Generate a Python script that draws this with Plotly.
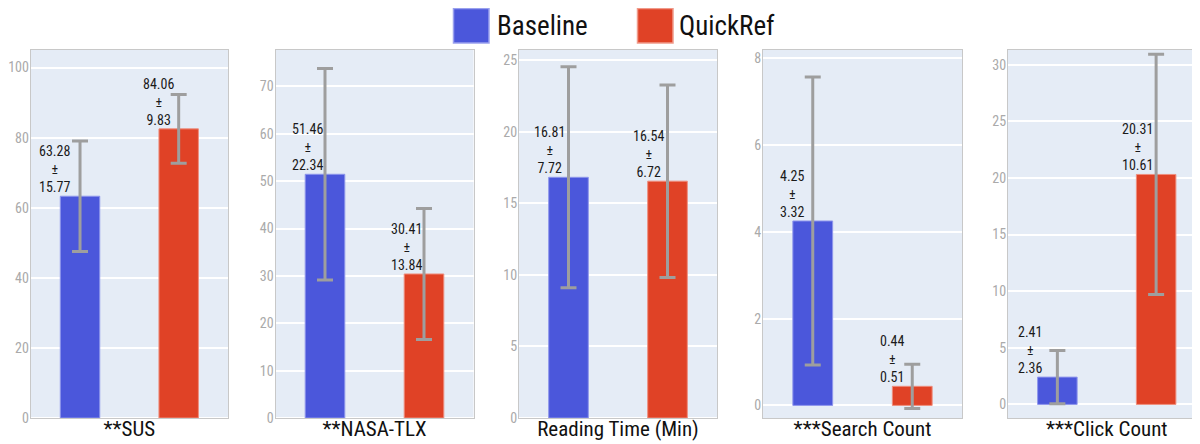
import plotly.graph_objects as go
from plotly.subplots import make_subplots

# ---------------- data ----------------
metrics = ["**SUS", "**NASA-TLX", "Reading Time (Min)", "***Search Count", "***Click Count"]
groups = ["Baseline", "QuickRef"]

baseline_mean = [63.28, 51.46, 16.81, 4.25, 2.41]
baseline_sd = [15.77, 22.34, 7.72, 3.32, 2.36]
quickref_mean = [82.5, 30.41, 16.54, 0.44, 20.31]   # bar heights as drawn
quickref_sd = [9.83, 13.84, 6.72, 0.51, 10.61]

baseline_label = ["63.28", "51.46", "16.81", "4.25", "2.41"]
baseline_label_sd = ["15.77", "22.34", "7.72", "3.32", "2.36"]
quickref_label = ["84.06", "30.41", "16.54", "0.44", "20.31"]
quickref_label_sd = ["9.83", "13.84", "6.72", "0.51", "10.61"]

# ---------------- style ----------------
FONT = "Roboto Condensed, Liberation Sans, sans-serif"
BLUE = "#4B57DB"
RED = "#E04226"
ERR = "rgb(158,158,158)"
W, H = 1200, 444
MT, MB = 42, 34
y_ranges = [[0, 105], [0, 77.7], [0, 25.7], [-0.29, 8.19], [-1.2, 31.3]]
y_dticks = [20, 10, 5, 2, 5]
x_px = [(22.7, 220), (267.5, 465.5), (511, 709), (755, 954), (1000, 1197.5)]
# horizontal offset (px) of each value label from its bar centre
label_dx_baseline = [-26, -18, -19, -20, -27]
label_dx_quickref = [-20, -18, -19, -20, -19]

fig = make_subplots(rows=1, cols=5)

annotations = []
for i, m in enumerate(metrics):
    means = [baseline_mean[i], quickref_mean[i]]
    sds = [baseline_sd[i], quickref_sd[i]]
    fig.add_trace(
        go.Bar(
            x=groups,
            y=means,
            width=0.4,
            marker=dict(color=[BLUE, RED],
                        line=dict(color=["#8E96EC", "#EE8E7E"], width=1)),
            error_y=dict(type="data", array=sds, visible=True,
                         color=ERR, thickness=3, width=8),
            showlegend=False,
        ),
        row=1, col=i + 1,
    )
    xa = "x" if i == 0 else f"x{i+1}"
    ya = "y" if i == 0 else f"y{i+1}"
    labels = [baseline_label[i] + "<br>±<br>" + baseline_label_sd[i],
              quickref_label[i] + "<br>±<br>" + quickref_label_sd[i]]
    shifts = [label_dx_baseline[i], label_dx_quickref[i]]
    for g, lab, mv, dx in zip(groups, labels, means, shifts):
        annotations.append(dict(
            xref=xa, yref=ya, x=g, y=mv, text=lab, showarrow=False,
            xanchor="center", yanchor="bottom", xshift=dx, yshift=-1,
            font=dict(family=FONT, size=14, color="#1a1a1a"),
        ))

    axis_x = dict(
        domain=[x_px[i][0] / W, x_px[i][1] / W],
        showticklabels=False, ticks="", showgrid=False,
        showline=True, linecolor="rgb(200,200,200)", linewidth=1, mirror=True,
        title=dict(text=m, font=dict(family=FONT, size=21, color="#111"), standoff=3),
        automargin=False,
    )
    axis_y = dict(
        range=y_ranges[i], dtick=y_dticks[i], tick0=0,
        showgrid=True, gridcolor="white", gridwidth=1.5,
        zeroline=True, zerolinecolor="white", zerolinewidth=2,
        showline=True, linecolor="rgb(200,200,200)", linewidth=1, mirror=True,
        tickfont=dict(family=FONT, size=14, color="rgb(170,170,170)"),
        ticks="", ticklabelstandoff=-2, automargin=False,
    )
    fig.update_xaxes(axis_x, row=1, col=i + 1)
    fig.update_yaxes(axis_y, row=1, col=i + 1)

# ---------------- legend (drawn) ----------------
plot_h = H - MT - MB
def py(p):
    return (H - MB - p) / plot_h

legend_items = [("Baseline", BLUE, "#9AA1EE", 445.5, 486.5),
                ("QuickRef", RED, "#F09A8A", 629.5, 669)]
shapes = []
for name, col, edge, sx, tx in legend_items:
    shapes.append(dict(type="rect", xref="paper", yref="paper",
                       x0=sx / W, x1=(sx + 35.5) / W, y0=py(35), y1=py(0.5),
                       fillcolor=col, line=dict(color=edge, width=1.5)))
    annotations.append(dict(xref="paper", yref="paper", x=tx / W, y=py(18),
                            text=name, showarrow=False, xanchor="left", yanchor="middle",
                            font=dict(family=FONT, size=27, color="#111")))

fig.update_layout(
    width=W, height=H,
    margin=dict(l=0, r=0, t=MT, b=MB),
    plot_bgcolor="#E5ECF6", paper_bgcolor="white",
    font=dict(family=FONT),
    annotations=annotations, shapes=shapes,
    showlegend=False, bargap=0.6,
)

fig.write_html("out.html")
